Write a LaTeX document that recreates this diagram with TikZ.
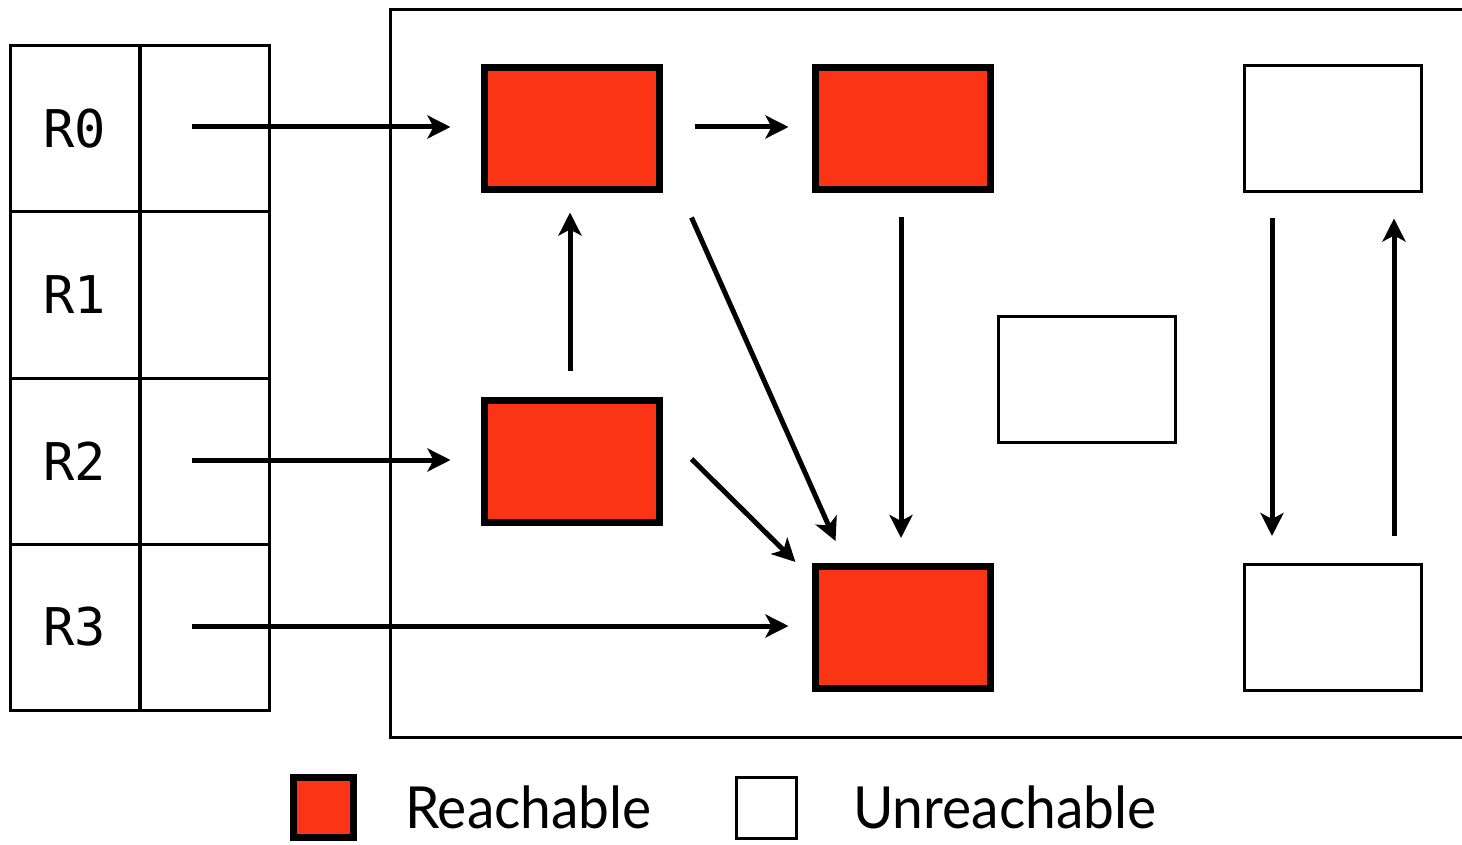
\documentclass[tikz,border=0pt]{standalone}
\usepackage{fontspec}
\setmainfont[FakeStretch=0.95]{Lato}
\newfontfamily\regfont{DejaVu Sans Mono}
\usetikzlibrary{arrows.meta,calc}
\definecolor{reach}{RGB}{252,52,22}
\begin{document}
\begin{tikzpicture}[x=1pt,y=-1pt,
  cell/.style={draw,line width=3pt,minimum width=129pt,minimum height=166pt,inner sep=0,outer sep=0,anchor=center},
  redbox/.style={draw,line width=7pt,fill=reach,minimum width=175pt,minimum height=122pt,inner sep=0,outer sep=0},
  whitebox/.style={draw,line width=3pt,fill=white,minimum width=177pt,minimum height=126pt,inner sep=0,outer sep=0},
  conn/.style={line width=5pt,-{Stealth[length=23pt,width=23pt,inset=6pt]}},
  reglabel/.style={font=\regfont\fontsize{52}{60}\selectfont},
  legtext/.style={font=\fontsize{58}{66}\selectfont,anchor=base west,inner sep=0}]
\useasboundingbox (0,0) rectangle (1462,845);
\fill[white] (0,0) rectangle (1462,845);
% heap frame
\draw[line width=3pt] (1480,10) -- (390.5,10) -- (390.5,737.5) -- (1480,737.5);
% register table
\foreach \i/\y in {0/128.5,1/295,2/461,3/627}{
  \node[cell,minimum width=129pt] (r\i n) at (75,\y) {};
  \node[cell] (r\i v) at (204.5,\y) {};
  \node[reglabel] at (r\i n) {R\i};
}
% objects
\node[redbox] (A) at (572,128.5) {};
\node[redbox] (B) at (903,128.5) {};
\node[redbox] (C) at (572,461.5) {};
\node[redbox] (D) at (903,627) {};
\node[whitebox] (E) at (1333,128.5) {};
\node[whitebox] (F) at (1087,379) {};
\node[whitebox] (G) at (1333,627) {};
% connectors
\draw[conn,shorten >=34pt] ([shift={(-13,-1.5)}]r0v.center) -- ([shift={(0,-1.5)}]A.west);
\draw[conn,shorten >=34pt] ([shift={(-13,-1)}]r2v.center) -- ([shift={(0,-1.5)}]C.west);
\draw[conn,shorten >=27pt] ([shift={(-13,-1)}]r3v.center) -- ([shift={(0,-1)}]D.west);
\draw[conn] ([shift={(35,-1.5)}]A.east) -- ([shift={(-27,-1.5)}]B.west);
\draw[conn] ([shift={(-2,-30)}]C.north) -- ([shift={(-2,23)}]A.south);
\draw[conn] ([shift={(32,28)}]A.south east) -- ([shift={(20,-25)}]D.north west);
\draw[conn] ([shift={(-2,28)}]B.south) -- ([shift={(-2,-28)}]D.north);
\draw[conn] ([shift={(32,-2.5)}]C.east) -- ([shift={(-20,-4)}]D.north west);
\draw[conn] ([shift={(-61,27)}]E.south) -- ([shift={(-61,-28)}]G.north);
\draw[conn] ([shift={(61,-28)}]G.north) -- ([shift={(61,27)}]E.south);
% legend
\node[draw,line width=7pt,fill=reach,minimum width=60pt,minimum height=60pt,inner sep=0,outer sep=0] (LR) at (323.5,807.5) {};
\node[draw,line width=3pt,fill=white,minimum width=60pt,minimum height=61pt,inner sep=0,outer sep=0] (LU) at (766.5,808) {};
\node[legtext] (LRt) at (405,828) {Reachable};
\node[legtext] (LUt) at (853,828) {Unreachable};
\end{tikzpicture}
\end{document}
